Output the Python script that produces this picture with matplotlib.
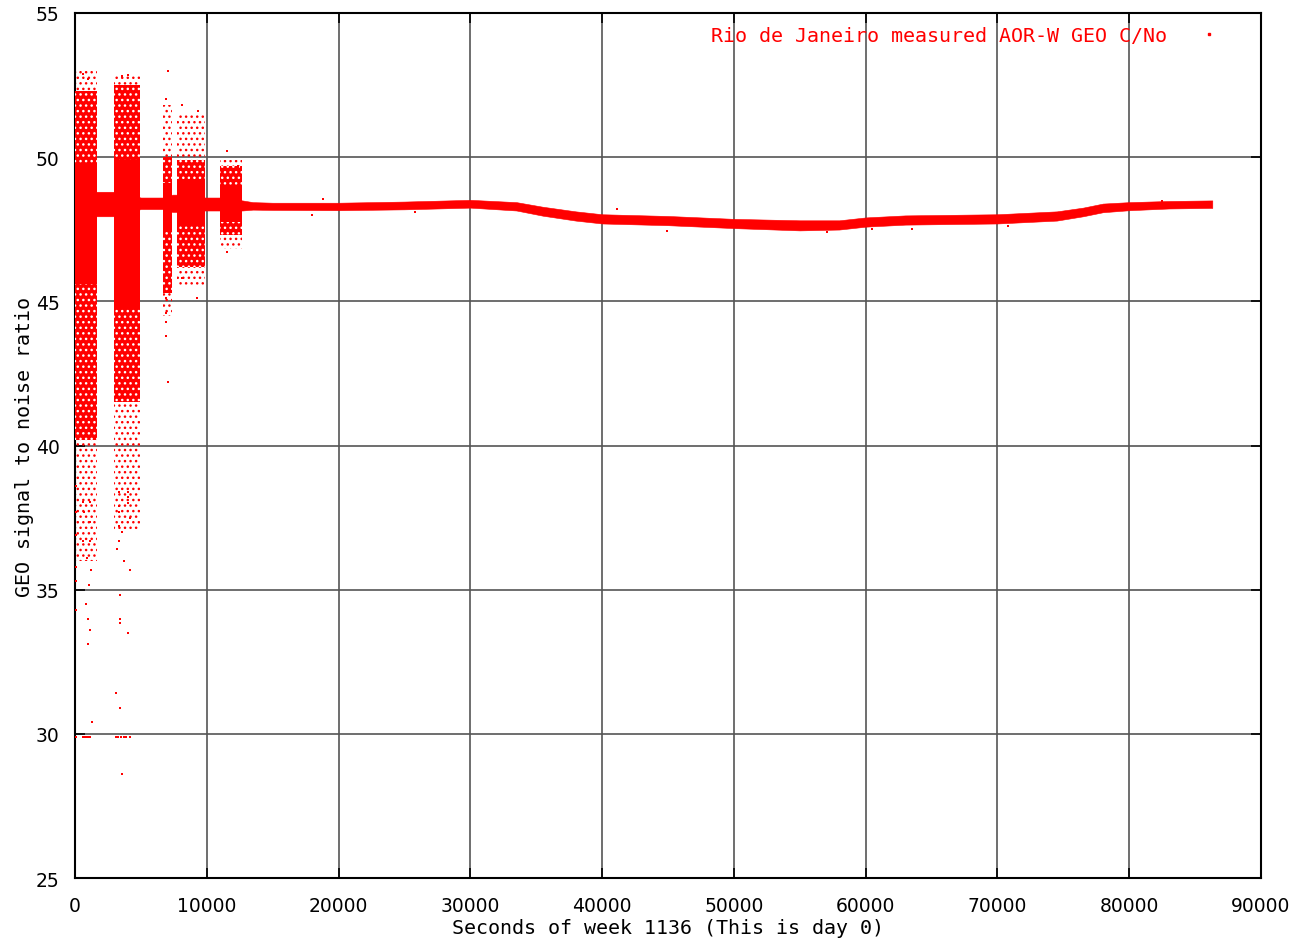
import matplotlib
matplotlib.use('Agg')
import matplotlib.pyplot as plt

# quiet part of the day: upper and lower edge of the dense C/No band
base_t = [0, 1500, 2900, 5000, 6650, 7400, 7700, 9900, 10950, 12700, 13500, 15000,
          20000, 25000, 30000, 33500, 35500, 38000, 40000, 45000, 50000, 55000,
          58000, 60000, 63000, 70000, 74500, 76500, 78000, 80000, 83000, 86300]
base_lo = [47.95, 47.95, 47.95, 48.2, 48.2, 48.1, 48.1, 48.15, 48.15, 48.15, 48.18, 48.17,
           48.16, 48.19, 48.25, 48.15, 47.97, 47.8, 47.7, 47.64, 47.54, 47.46,
           47.49, 47.59, 47.66, 47.7, 47.8, 47.95, 48.09, 48.16, 48.22, 48.24]
base_hi = [48.8, 48.8, 48.8, 48.6, 48.6, 48.7, 48.7, 48.6, 48.6, 48.5, 48.44, 48.42,
           48.42, 48.46, 48.52, 48.44, 48.28, 48.12, 48.02, 47.96, 47.86, 47.81,
           47.81, 47.91, 47.98, 48.02, 48.12, 48.25, 48.39, 48.44, 48.48, 48.5]

# noisy bursts in the first hours
burst_start = [0, 2950, 6700, 7750, 11000]
burst_end = [1650, 4950, 7350, 9850, 12650]
core_lo = [45.6, 44.8, 47.5, 47.6, 47.75]
core_hi = [49.8, 49.9, 49.1, 49.2, 49.0]
dense_lo = [40.2, 41.5, 45.3, 46.2, 47.3]
dense_hi = [52.3, 52.5, 50.0, 49.9, 49.7]
sparse_lo = [36.0, 37.0, 44.5, 45.5, 46.8]
sparse_hi = [53.0, 52.9, 51.8, 51.5, 49.9]

# single samples away from the band
out_t = [610, 1140, 680, 1140, 610, 1140, 910, 1210, 1060, 830, 990, 1140, 990, 1290,
         600, 750, 900, 1050, 1150, 80, 80, 80, 80, 80, 80, 80,
         3340, 4020, 4020, 4020, 4170, 3340, 3340, 3340, 3570, 3340, 3190, 3720, 4170,
         3420, 3420, 3420, 4020, 3110, 3420, 3100, 3300, 3500, 3700, 3900, 4170, 3570,
         7060, 610, 990, 3570, 4020, 7060, 6900, 8120, 9330, 11530, 12370, 80,
         6900, 6900, 6900, 6900, 9260, 8120, 11530,
         12370, 17980, 18800, 25800, 41100, 44900, 57100, 60500, 63500, 70800, 82500]
out_v = [38.05, 38.05, 37.7, 37.35, 36.7, 36.7, 36.1, 35.7, 35.15, 34.5, 34.0, 33.6, 33.1, 30.4,
         29.9, 29.9, 29.9, 29.9, 29.9, 35.8, 34.3, 35.3, 37.7, 36.9, 29.9, 38.6,
         38.4, 38.4, 38.2, 38.0, 37.5, 37.9, 37.7, 37.2, 37.0, 36.7, 36.4, 36.0, 35.7,
         34.8, 34.0, 33.85, 33.5, 31.4, 30.9, 29.9, 29.9, 29.9, 29.9, 29.9, 29.9, 28.6,
         42.2, 52.9, 52.7, 52.8, 52.85, 53.0, 52.0, 51.8, 51.6, 50.2, 49.65, 52.1,
         45.1, 44.6, 44.3, 43.8, 45.1, 45.8, 46.7,
         49.7, 48.0, 48.55, 48.1, 48.2, 47.44, 47.4, 47.5, 47.5, 47.6, 48.48]

x_ticks = list(range(0, 90001, 10000))
y_ticks = list(range(25, 56, 5))

fig = plt.figure(figsize=(13.01, 9.45), dpi=100)
ax = fig.add_axes([0.0576, 0.0698, 0.9117, 0.9154])

for i in range(len(burst_start)):
    span = [burst_start[i], burst_end[i]]
    ax.fill_between(span, sparse_lo[i], sparse_hi[i], facecolor='none',
                    edgecolor='red', hatch='...', linewidth=0, zorder=2)
    ax.fill_between(span, dense_lo[i], dense_hi[i], facecolor='red',
                    edgecolor='white', hatch='...', linewidth=0, zorder=3)
    ax.fill_between(span, core_lo[i], core_hi[i], color='red', linewidth=0, zorder=4)

ax.fill_between(base_t, base_lo, base_hi, color='red', linewidth=0.4, edgecolor='red', zorder=4)
ax.scatter(out_t, out_v, s=3, marker='s', color='red', linewidths=0, zorder=5)

ax.plot([], [], ls='none', marker='s', ms=1.5, color='red',
        label='Rio de Janeiro measured AOR-W GEO C/No')
leg = ax.legend(loc='upper right', bbox_to_anchor=(0.984, 1.006), frameon=False,
                markerfirst=False, handlelength=1.5, handletextpad=1.35,
                prop={'family': 'DejaVu Sans Mono', 'size': 14.4})
for t in leg.get_texts():
    t.set_color('red')

ax.set_xlim(0, 90000)
ax.set_ylim(25, 55)
ax.set_xticks(x_ticks)
ax.set_yticks(y_ticks)
ax.set_xticklabels([str(v) for v in x_ticks])
ax.grid(True, color='#555555', linewidth=1.2)
ax.set_axisbelow(True)
ax.tick_params(direction='in', length=7, width=1.2, top=True, right=True,
               labelsize=13.5, colors='black')
ax.tick_params(axis='x', pad=13)
ax.tick_params(axis='y', pad=11)
for s in ax.spines.values():
    s.set_linewidth(1.5)

ax.set_xlabel('Seconds of week 1136 (This is day 0)', family='DejaVu Sans Mono',
              fontsize=14.4, labelpad=2)
ax.set_ylabel('GEO signal to noise ratio', family='DejaVu Sans Mono',
              fontsize=14.4, labelpad=1)

fig.savefig('out.png', dpi=100)
